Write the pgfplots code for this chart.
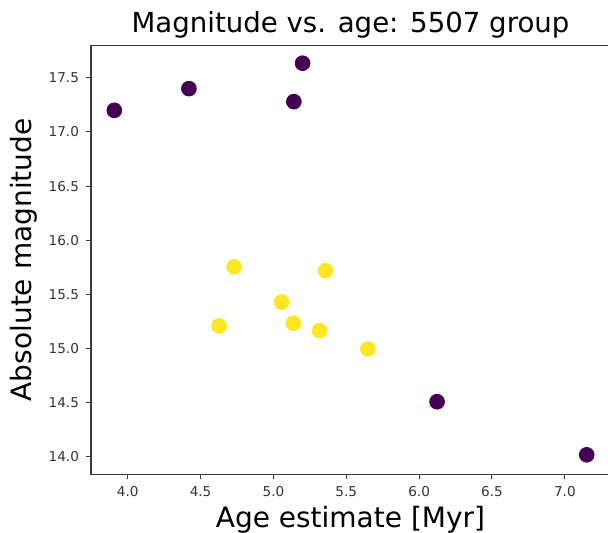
\documentclass[border=0pt]{standalone}
\usepackage{pgfplots}
\pgfplotsset{compat=1.18}
\usepackage{fontspec}
\setmainfont{DejaVu Sans}
\usetikzlibrary{calc}
\definecolor{vpurple}{HTML}{440154}
\definecolor{vyellow}{HTML}{FDE725}
\definecolor{spine}{HTML}{3a3a3a}
\begin{document}
\begin{tikzpicture}
\begin{axis}[
  scale only axis,
  width=259.5pt, height=214.5pt,
  xmin=3.748, xmax=7.31,
  ymin=13.84, ymax=17.80,
  xtick={4.0,4.5,5.0,5.5,6.0,6.5,7.0},
  ytick={14.0,14.5,15.0,15.5,16.0,16.5,17.0,17.5},
  xticklabel style={/pgf/number format/.cd,fixed,fixed zerofill,precision=1},
  yticklabel style={/pgf/number format/.cd,fixed,fixed zerofill,precision=1},
  /pgf/number format/assume math mode=true,
  tick label style={font=\fontsize{6.8}{8}\selectfont, text=black!80},
  tick align=outside,
  major tick length=2.5pt,
  tick style={spine, line width=0.5pt},
  axis line style={spine, line width=0.6pt},
  xtick pos=bottom, ytick pos=left,
  title={Magnitude vs. age: 5507 group},
  title style={font=\fontsize{13.8}{16}\selectfont, yshift=-6pt},
  xlabel={Age estimate [Myr]},
  ylabel={Absolute magnitude},
  label style={font=\fontsize{14}{16}\selectfont},
  xlabel style={yshift=2pt},
  ylabel style={yshift=-1pt},
  clip=false,
]
\addplot[only marks, mark=*, mark size=3.7pt, mark options={draw=vpurple, fill=vpurple}]
coordinates {
(3.908,17.20) (4.42,17.40) (5.20,17.635) (5.14,17.28) (6.123,14.51) (7.15,14.02)
};
\addplot[only marks, mark=*, mark size=3.7pt, mark options={draw=vyellow, fill=vyellow}]
coordinates {
(4.73,15.755) (5.358,15.72) (5.057,15.43) (4.627,15.21) (5.137,15.234) (5.317,15.166) (5.648,14.997)
};
\end{axis}
\pgfresetboundingbox
\path[use as bounding box] ($(current axis.south west)+(-45.5pt,-28.85pt)$) rectangle ($(current axis.south west)+(258.5pt,237.15pt)$);
\end{tikzpicture}
\end{document}
